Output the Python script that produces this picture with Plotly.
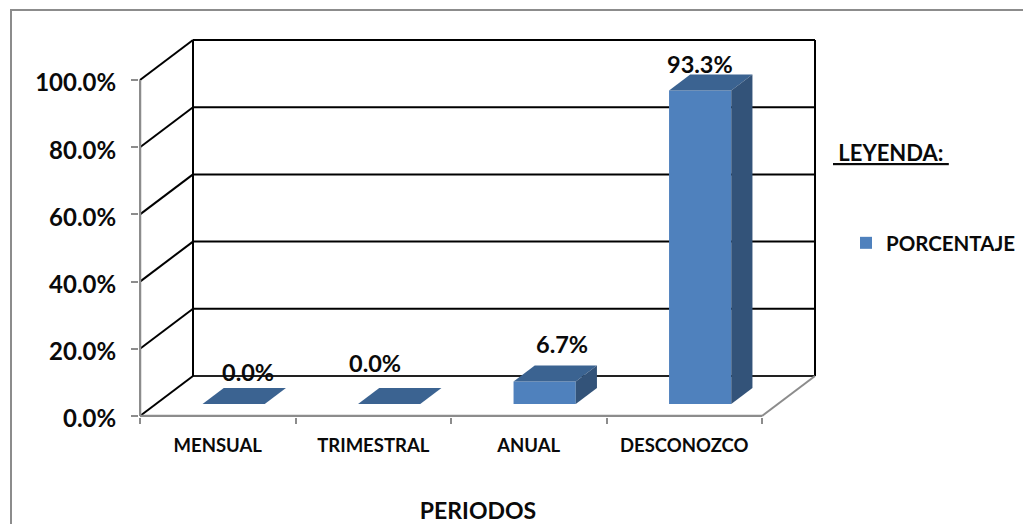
import plotly.graph_objects as go

categories = ["MENSUAL", "TRIMESTRAL", "ANUAL", "DESCONOZCO"]
values = [0.0, 0.0, 6.7, 93.3]
y_ticks = [0, 20, 40, 60, 80, 100]
series_name = "PORCENTAJE"

# pseudo-3D projection (in axis units)
PX_X, PX_Y = 155.5, 3.36
DEPTH_X, DEPTH_Y = 53 / PX_X, 40 / PX_Y
GAP, BAR_W, BAR_D = 0.3, 0.4, 0.4
FONT = "Lato"
INK = "#0a0a0a"
FRONT, TOP, SIDE = "#4F81BD", "#3B6391", "#335379"
GREY = "#8c8c8c"
n = len(categories)
ymax = y_ticks[-1]


def P(x, d, v):
    return x + d * DEPTH_X, v + d * DEPTH_Y


def seg(a, b, color, width=2):
    return dict(type="line", xref="x", yref="y", x0=a[0], y0=a[1], x1=b[0], y1=b[1],
                line=dict(color=color, width=width), layer="below")


shapes = []
for t in y_ticks[1:]:
    shapes.append(seg(P(0, 1, t), P(n, 1, t), "#000000"))
    shapes.append(seg(P(0, 0, t), P(0, 1, t), "#000000"))
shapes += [
    seg(P(0, 1, 0), P(n, 1, 0), "#222222"),
    seg(P(0, 1, 0), P(0, 1, ymax), "#000000"),
    seg(P(n, 1, 0), P(n, 1, ymax), "#000000"),
    seg(P(0, 0, 0), P(0, 1, 0), "#000000"),
    seg(P(n, 0, 0), P(n, 1, 0), GREY),
    seg(P(0, 0, 0), P(n, 0, 0), GREY, 2.5),
    seg(P(0, 0, 0), P(0, 0, ymax), GREY, 2.5),
]

L, R, T, B = 139, 206, 39, 107
W, H = 1023, 524
pw, ph = W - L - R, H - T - B


def px_paper(px, py):
    return (px - L) / pw, (H - B - py) / ph


bx0, by0 = px_paper(11, 10)
bx1, by1 = px_paper(1040, 540)
shapes.append(dict(type="rect", xref="paper", yref="paper", x0=bx0, y0=by0, x1=bx1, y1=by1,
                   line=dict(color=GREY, width=2), layer="below"))

fig = go.Figure()

# front faces
centers = [i + GAP * DEPTH_X + GAP + BAR_W / 2 for i in range(n)]
base = GAP * DEPTH_Y
fig.add_trace(go.Bar(x=centers, y=values, base=[base] * n, width=BAR_W, name=series_name,
                     marker=dict(color=FRONT, line=dict(width=0)), showlegend=True,
                     hoverinfo="skip"))

# tops and sides
for i, v in enumerate(values):
    xl = i + GAP
    xr = xl + BAR_W
    tx, ty = [], []
    for x, d in [(xl, GAP), (xr, GAP), (xr, GAP + BAR_D), (xl, GAP + BAR_D), (xl, GAP)]:
        a, b = P(x, d, v)
        tx.append(a); ty.append(b)
    fig.add_trace(go.Scatter(x=tx, y=ty, mode="lines", fill="toself", fillcolor=TOP,
                             line=dict(width=0, color=TOP), showlegend=False, hoverinfo="skip"))
    if v > 0:
        sx, sy = [], []
        for d, w in [(GAP, 0), (GAP + BAR_D, 0), (GAP + BAR_D, v), (GAP, v), (GAP, 0)]:
            a, b = P(xr, d, w)
            sx.append(a); sy.append(b)
        fig.add_trace(go.Scatter(x=sx, y=sy, mode="lines", fill="toself", fillcolor=SIDE,
                                 line=dict(width=0, color=SIDE), showlegend=False, hoverinfo="skip"))

# hand-placed data labels (pixel shift from bar front top)
label_shift = [(14, 32), (-14, 41), (17, 37), (0, 27)]
annotations = []
for c, v, (dx, dy) in zip(centers, values, label_shift):
    annotations.append(dict(x=c, y=v + base, xref="x", yref="y", text=f"{v:.1f}%", showarrow=False,
                            xshift=dx, yshift=dy, font=dict(family=FONT, size=23.5, color=INK, weight="bold")))
lx, ly = px_paper(891, 152)
annotations.append(dict(x=lx, y=ly, xref="paper", yref="paper", showarrow=False,
                        xanchor="center", yanchor="middle",
                        text="<u>\u00a0LEYENDA:\u00a0</u>",
                        font=dict(family=FONT, size=22, color=INK, weight="bold")))

fig.update_layout(
    width=W, height=H, autosize=False,
    margin=dict(l=L, r=R, t=T, b=B, pad=0),
    paper_bgcolor="white", plot_bgcolor="white",
    shapes=shapes, annotations=annotations, barmode="overlay",
    font=dict(family=FONT, color=INK),
    legend=dict(xref="container", yref="container", x=846 / W, y=1 - 243 / H,
                xanchor="left", yanchor="middle", bgcolor="rgba(0,0,0,0)",
                font=dict(family=FONT, size=20.5, color=INK, weight="bold")),
    xaxis=dict(range=[-1 / PX_X, (817 - 140) / PX_X], showgrid=False, zeroline=False, showline=False,
               tickmode="array", tickvals=[i + 0.5 for i in range(n)], ticktext=categories,
               ticks="", ticklen=0, ticklabelstandoff=15,
               tickfont=dict(family=FONT, size=18.5, color=INK, weight="bold"),
               minor=dict(tickmode="array", tickvals=list(range(n + 1)), ticks="outside", ticklen=6,
                          tickcolor=GREY, tickwidth=2, showgrid=False),
               title=dict(text="PERIODOS", standoff=64,
                          font=dict(family=FONT, size=23, color=INK, weight="bold")),
               automargin=False),
    yaxis=dict(range=[-1 / PX_Y, (416 - 39) / PX_Y], showgrid=False, zeroline=False, showline=False,
               tickmode="array", tickvals=y_ticks, ticktext=[f"{t:.1f}%" for t in y_ticks],
               ticks="outside", ticklen=7, tickcolor=GREY, tickwidth=2, ticklabelstandoff=10,
               ticklabelshift=3,
               tickfont=dict(family=FONT, size=24, color=INK, weight="bold"), automargin=False),
)
fig.write_html("out.html", config=dict(displayModeBar=False),
               post_script="document.body.style.margin='0';")
